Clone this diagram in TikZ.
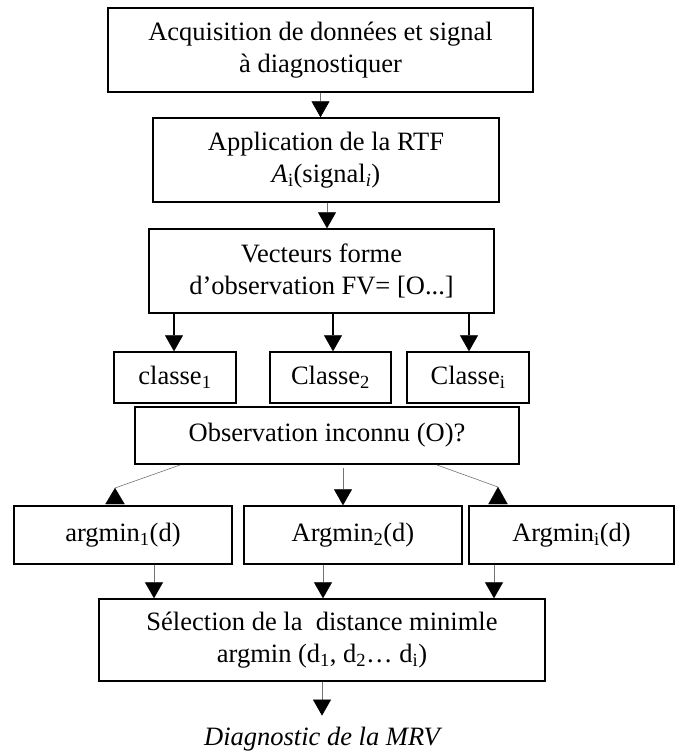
\documentclass[tikz,border=0pt]{standalone}
\usepackage{fontspec}
\setmainfont{Liberation Serif}
\usetikzlibrary{arrows.meta}
\begin{document}
\begin{tikzpicture}[x=1pt,y=-1pt,
  box/.style={draw=black,line width=1.4pt,rectangle,inner sep=0pt,align=center,
    font=\fontsize{26.5}{32}\selectfont},
  flow/.style={draw=black!55,line width=0.6pt,
    -{Triangle[width=18pt,length=16pt,color=black,fill=black]}},
  flowbold/.style={draw=black,line width=2.4pt,
    -{Triangle[width=18pt,length=16pt,color=black,fill=black,line width=0.6pt]}},
  flowline/.style={draw=black!55,line width=0.6pt},
  uptip/.style={fill=black,draw=black,line width=0.1pt}
]
\useasboundingbox (0,0) rectangle (675,751);

% main chain
\node[box,minimum width=425pt,minimum height=84pt] (acq) at (320.5,50)
  {Acquisition de données et signal\\à diagnostiquer};
\node[box,minimum width=346pt,minimum height=84pt] (rtf) at (326,160)
  {Application de la RTF\\\textit{A}\textsubscript{i}(signal\textsubscript{\textit{i}})};
\node[box,minimum width=345pt,minimum height=84pt] (fv) at (321.5,271)
  {Vecteurs forme\\d’observation FV= [O...]};

% classes
\node[box,minimum width=122pt,minimum height=51pt] (c1) at (175,377.5) {classe\textsubscript{1}};
\node[box,minimum width=121pt,minimum height=51pt] (c2) at (330.5,377.5) {Classe\textsubscript{2}};
\node[box,minimum width=122pt,minimum height=51pt] (ci) at (468,377.5) {Classe\textsubscript{i}};

\node[box,minimum width=384pt,minimum height=57pt] (obs) at (327,435.5) {Observation inconnu (O)?};

% distances
\node[box,minimum width=218pt,minimum height=58pt] (a1) at (123,535) {argmin\textsubscript{1}(d)};
\node[box,minimum width=218pt,minimum height=58pt] (a2) at (353,535) {Argmin\textsubscript{2}(d)};
\node[box,minimum width=205pt,minimum height=58pt] (ai) at (571.5,535) {Argmin\textsubscript{i}(d)};

\node[box,minimum width=446pt,minimum height=82pt] (sel) at (322,640)
  {Sélection de la\ \ distance minimle\\argmin (d\textsubscript{1}, d\textsubscript{2}… d\textsubscript{i})};

\node[anchor=base,inner sep=0pt,outer ysep=11pt,font=\fontsize{26.5}{32}\selectfont\itshape] (diag)
  at (322,745) {Diagnostic de la MRV};

% arrow columns
\coordinate (xb) at (327,0);
\coordinate (xc1) at (174,0);
\coordinate (xc2) at (333,0);
\coordinate (xci) at (469,0);
\coordinate (x2) at (343,0);
\coordinate (y1) at (154,0);
\coordinate (y2) at (323,0);
\coordinate (yi) at (494,0);

% connectors
\draw[flow] (acq.south) -- (acq.south |- rtf.north);
\draw[flow] (rtf.south -| xb) -- (fv.north -| xb);

\draw[flowbold] (fv.south -| xc1) -- (c1.north -| xc1);
\draw[flowbold] (fv.south -| xc2) -- (c2.north -| xc2);
\draw[flowbold] (fv.south -| xci) -- (ci.north -| xci);

% diagonal links with upright tips
\coordinate (l0) at (180,465);
\coordinate (l1) at (115,488);
\coordinate (r0) at (437,465);
\coordinate (r1) at (498,487);
\draw[flowline] (l0) -- (l1);
\filldraw[uptip] (l1) -- (105.5,504) -- (124.5,504) -- cycle;
\draw[flowline] (r0) -- (r1);
\filldraw[uptip] (r1) -- (488.5,504) -- (507.5,504) -- cycle;
\coordinate (o2) at (343,468);
\draw[flow] (o2) -- (a2.north -| x2);

\draw[flow] (a1.south -| y1) -- (sel.north -| y1);
\draw[flow] (a2.south -| y2) -- (sel.north -| y2);
\draw[flow] (ai.south -| yi) -- (sel.north -| yi);

\draw[flow] (sel.south) -- (diag.north);
\end{tikzpicture}
\end{document}
